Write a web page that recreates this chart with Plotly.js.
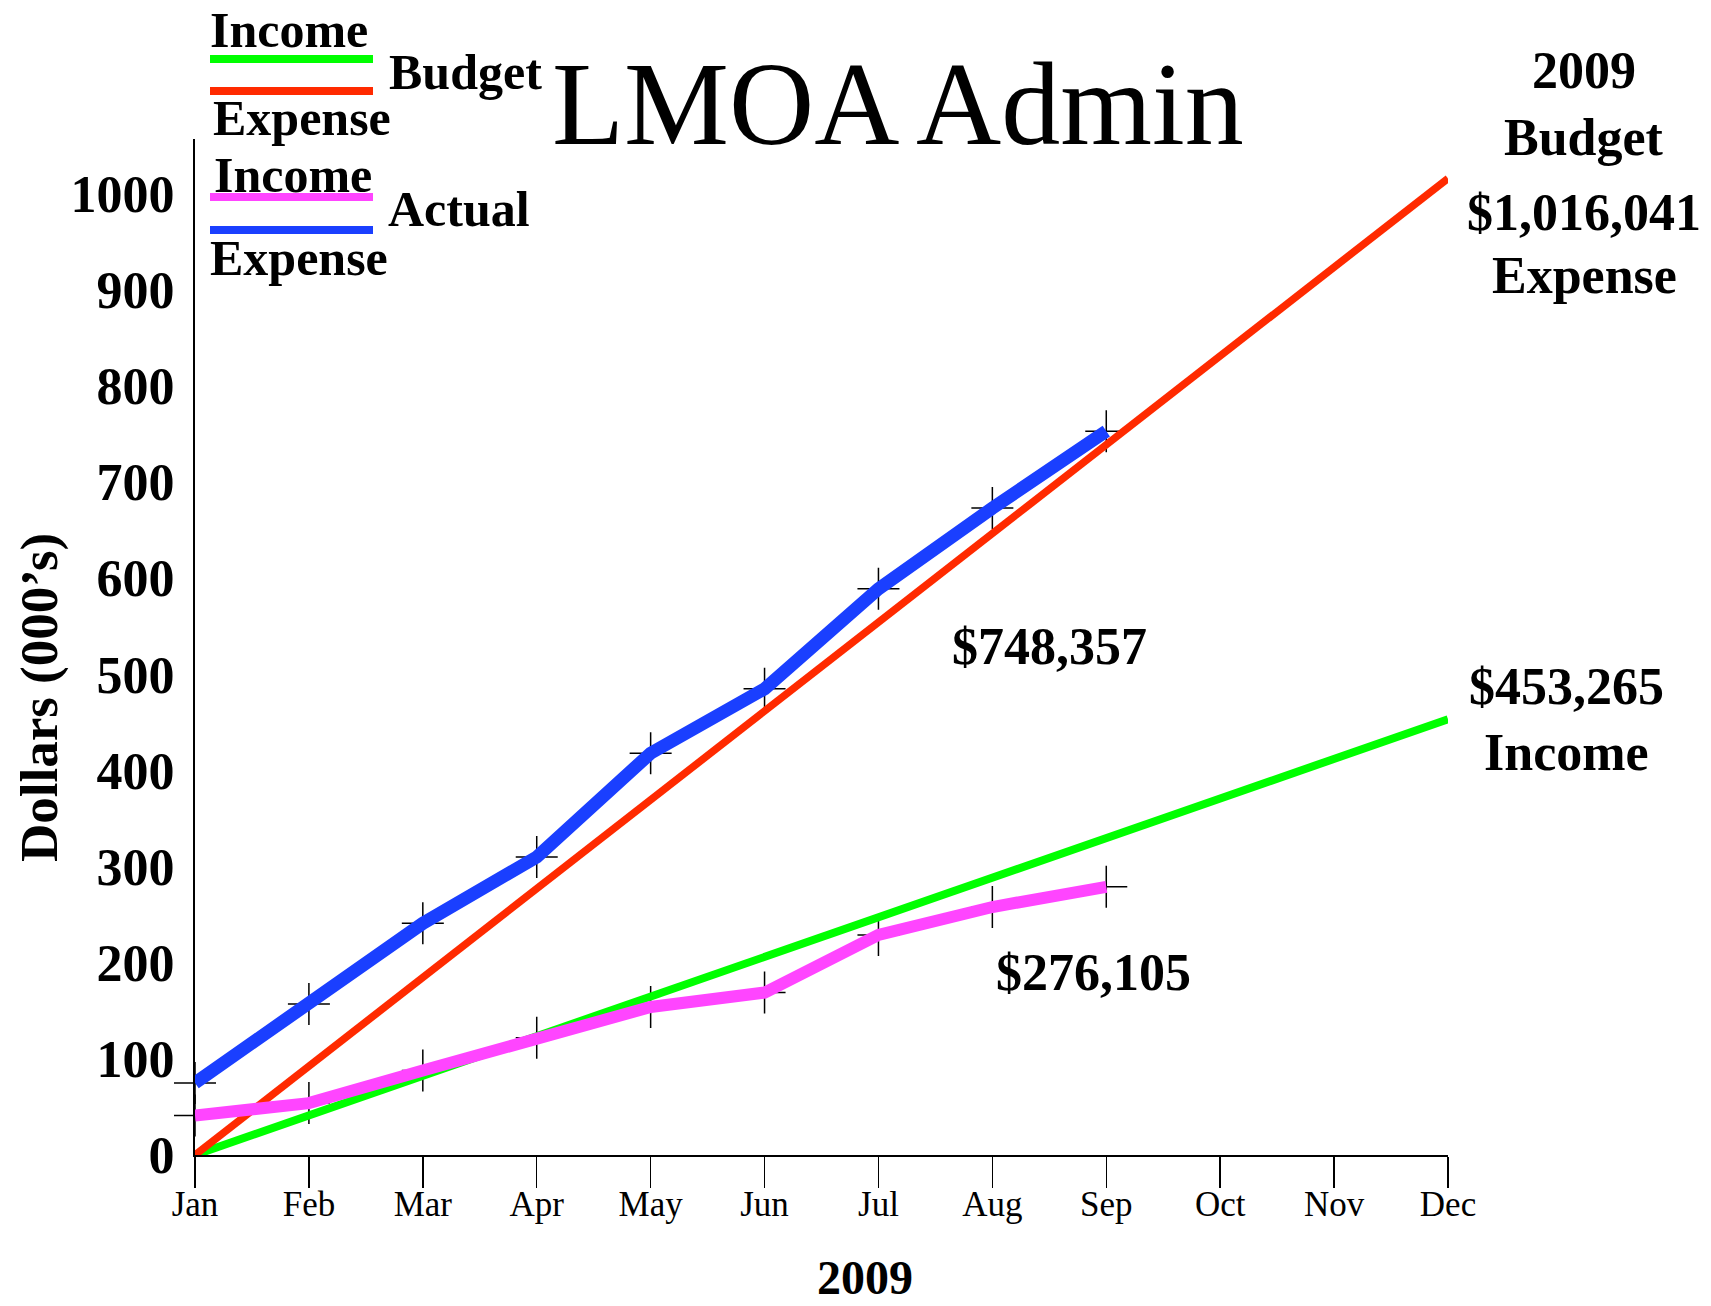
<!DOCTYPE html>
<html>
<head>
<meta charset="utf-8">
<script src="https://cdn.plot.ly/plotly-3.0.1.min.js"></script>
<style>
  html, body { margin: 0; padding: 0; background: #fff; }
  #chart { width: 1711px; height: 1306px; }
</style>
</head>
<body>
<div id="chart"></div>
<script>
(() => {
  const months = ["Jan", "Feb", "Mar", "Apr", "May", "Jun", "Jul", "Aug", "Sep", "Oct", "Nov", "Dec"];
  const yTicks = [0, 100, 200, 300, 400, 500, 600, 700, 800, 900, 1000];

  // dollars in thousands
  const budgetIncome = [0, 41.2, 82.4, 123.6, 164.8, 206.0, 247.2, 288.4, 329.6, 370.8, 412.0, 453.3];
  const budgetExpense = [0, 92.4, 184.7, 277.1, 369.5, 461.9, 554.2, 646.6, 738.9, 831.3, 923.7, 1016.0];
  const actualIncome = [41, 54, 88, 122, 154, 169, 229, 258, 279];
  const actualExpense = [75, 157, 241, 310, 418, 485, 589, 673, 753];

  const GREEN = "#00ff00";
  const RED = "#ff2a00";
  const PINK = "#ff45ff";
  const BLUE = "#1a3fff";
  const FONT = "Liberation Serif, Times New Roman, serif";

  // plot box in page pixels
  const L = 195, R = 1448, T = 139, B = 1155;
  const px = (x) => (x - L) / (R - L);
  const py = (y) => (B - y) / (B - T);

  const lineTrace = (y, color, width) => ({
    x: months.slice(0, y.length),
    y: y,
    type: "scatter",
    mode: "lines",
    line: { color: color, width: width },
    hoverinfo: "skip",
  });
  // the "+" marks sit under the actual lines; the Jan ones poke out left of the axis
  const crossTrace = (y) => ({
    x: months.slice(0, y.length),
    y: y,
    type: "scatter",
    mode: "markers",
    cliponaxis: false,
    marker: { symbol: "cross-thin", size: 30, line: { color: "#000", width: 1.5 } },
    hoverinfo: "skip",
  });

  const data = [
    crossTrace(actualIncome),
    crossTrace(actualExpense),
    lineTrace(budgetIncome, GREEN, 8),
    lineTrace(budgetExpense, RED, 7.5),
    lineTrace(actualIncome, PINK, 12),
    lineTrace(actualExpense, BLUE, 13),
  ];

  const bold = (size) => ({ family: FONT, size: size, color: "#000", weight: "bold" });
  const label = (text, x, y, size) => ({
    text: text,
    xref: "paper", yref: "paper",
    x: px(x), y: py(y),
    xanchor: "center", yanchor: "middle",
    showarrow: false,
    font: bold(size || 52),
  });
  const legendLine = (y, color) => ({
    type: "line",
    xref: "paper", yref: "paper",
    x0: px(210), x1: px(373), y0: py(y), y1: py(y),
    line: { color: color, width: 8 },
  });

  const annotations = [
    {
      text: "LMOA Admin",
      xref: "paper", yref: "paper",
      x: px(898), y: py(104),
      xanchor: "center", yanchor: "middle",
      showarrow: false,
      font: { family: FONT, size: 118, color: "#000" },
    },
    label("Income", 289, 30, 50),
    label("Budget", 465, 72, 50),
    label("Expense", 302, 118, 50),
    label("Income", 293, 175, 50),
    label("Actual", 459, 209, 50),
    label("Expense", 299, 258, 50),
    label("2009", 1584, 71),
    label("Budget", 1584, 137),
    label("$1,016,041", 1584, 212),
    label("Expense", 1584, 275),
    label("$453,265", 1566, 687),
    label("Income", 1566, 752),
    label("$748,357", 1049, 646),
    label("$276,105", 1093, 972),
    label("2009", 865, 1277, 48),
    Object.assign(label("Dollars (000\u2019s)", 39, 698, 53), { textangle: -90 }),
  ];

  const shapes = [
    legendLine(59, GREEN),
    legendLine(91, RED),
    legendLine(197, PINK),
    legendLine(230, BLUE),
  ];

  Plotly.newPlot("chart", data, {
    width: 1711,
    height: 1306,
    margin: { l: L, r: 1711 - R, t: T, b: 1306 - B, pad: 0 },
    paper_bgcolor: "#fff",
    plot_bgcolor: "#fff",
    showlegend: false,
    xaxis: {
      type: "category",
      categoryarray: months,
      range: [0, 11],
      showgrid: false,
      zeroline: false,
      showline: true,
      linecolor: "#000",
      linewidth: 2,
      ticks: "outside",
      ticklen: 31,
      tickwidth: 1.5,
      tickcolor: "#000",
      ticklabelstandoff: -14,
      tickfont: { family: FONT, size: 35, color: "#000" },
    },
    yaxis: {
      range: [0, 1057],
      tickvals: yTicks,
      showgrid: false,
      zeroline: false,
      showline: true,
      linecolor: "#000",
      linewidth: 2,
      ticks: "",
      ticklabelstandoff: 8,
      tickfont: bold(52),
    },
    annotations: annotations,
    shapes: shapes,
  }, { displayModeBar: false, staticPlot: true });
})();
</script>
</body>
</html>
